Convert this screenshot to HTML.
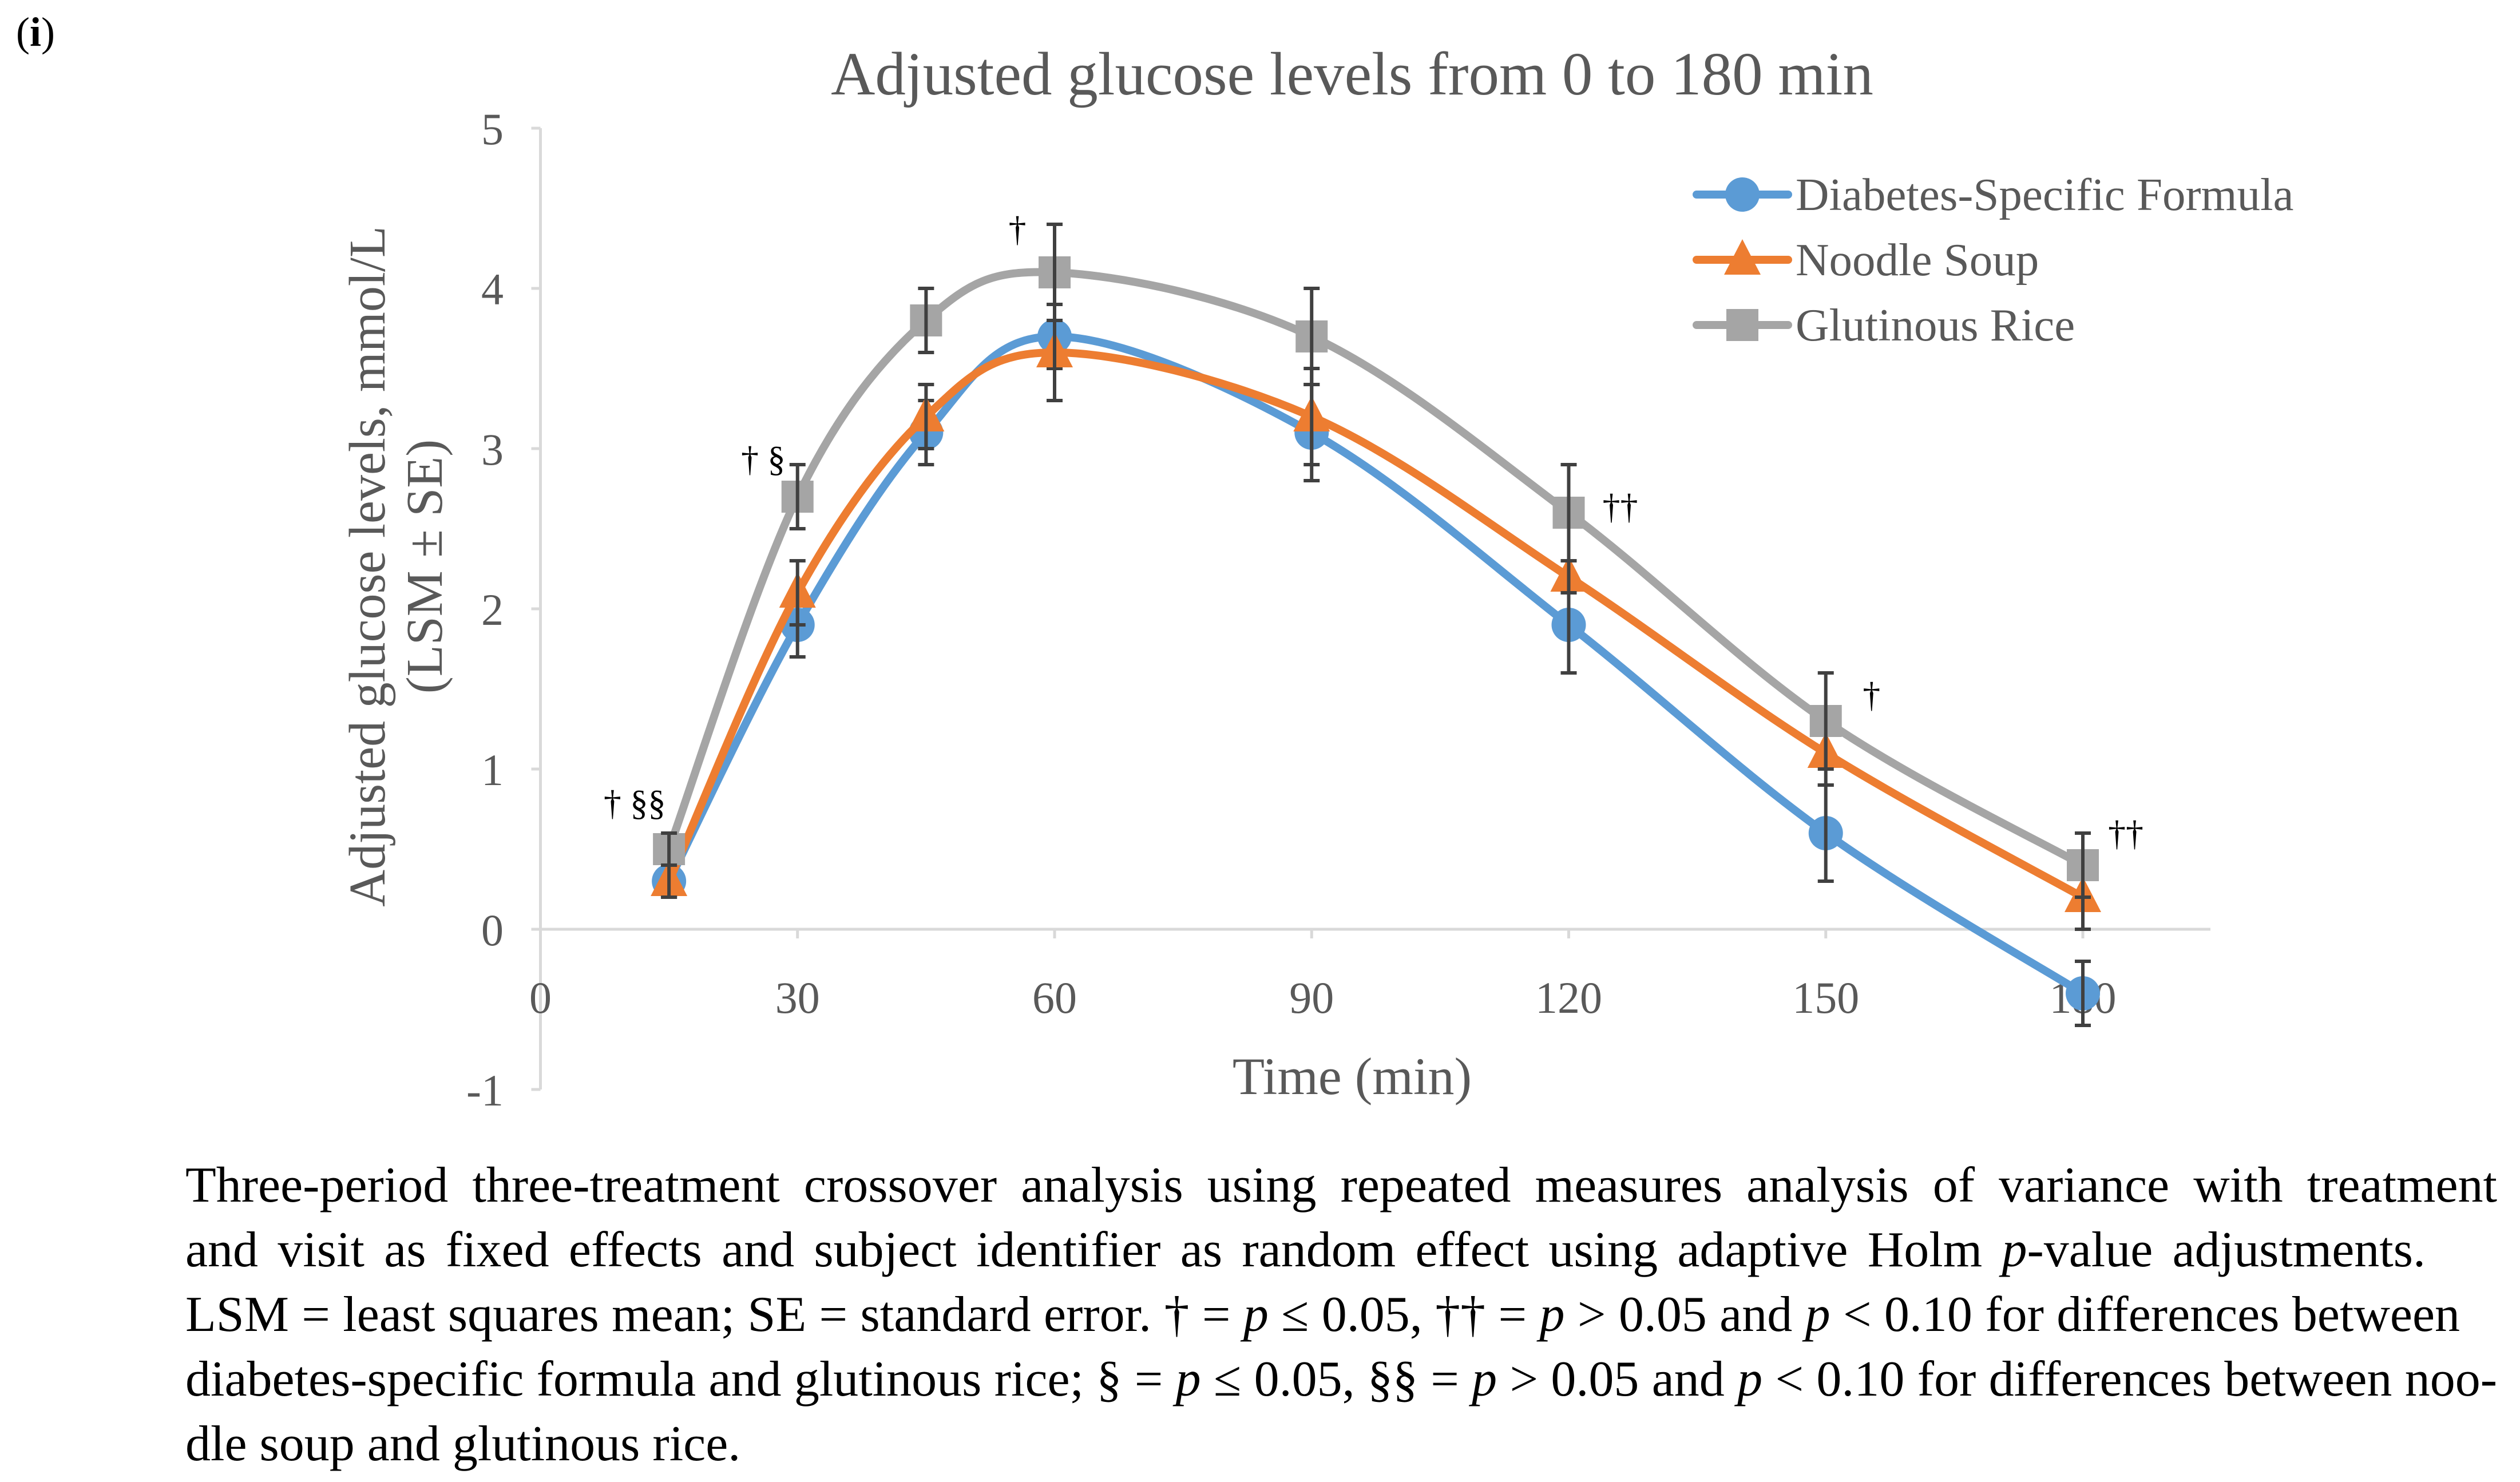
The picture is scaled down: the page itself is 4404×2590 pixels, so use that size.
<!DOCTYPE html>
<html><head><meta charset="utf-8">
<style>
html,body{margin:0;padding:0;background:#fff;width:4404px;height:2590px;overflow:hidden}
svg{display:block}
.cap{position:absolute;left:324px;font-family:"Liberation Serif",serif;font-size:88px;line-height:113px;color:#000;white-space:nowrap}
</style></head>
<body>
<svg id="chart" width="4404" height="2590" viewBox="0 0 4404 2590" xmlns="http://www.w3.org/2000/svg" style="position:absolute;left:0;top:0">
<text x="28" y="80" font-family="Liberation Serif, serif" font-size="72" fill="#000">(<tspan font-weight="bold">i</tspan>)</text>
<text x="2363" y="165" text-anchor="middle" font-family="Liberation Serif, serif" font-size="107" fill="#595959">Adjusted  glucose levels from 0 to 180 min</text>
<g id="axes"></g>
<g id="series"></g>
<g id="legend"></g>
</svg>
<div class="cap" data-w="4040" style="top:2015px">Three-period three-treatment crossover analysis using repeated measures analysis of variance with treatment</div>
<div class="cap" data-w="3915" style="top:2128px">and visit as fixed effects and subject identifier as random effect using adaptive Holm <i>p</i>-value adjustments.</div>
<div class="cap" data-w="3975" style="top:2241px">LSM = least squares mean; SE = standard error. † = <i>p</i> ≤ 0.05, †† = <i>p</i> &gt; 0.05 and <i>p</i> &lt; 0.10 for differences between</div>
<div class="cap" data-w="4040" style="top:2354px">diabetes-specific formula and glutinous rice; § = <i>p</i> ≤ 0.05, §§ = <i>p</i> &gt; 0.05 and <i>p</i> &lt; 0.10 for differences between noo-</div>
<div class="cap" style="top:2467px">dle soup and glutinous rice.</div>
<script>
document.querySelectorAll('.cap[data-w]').forEach(el=>{
  const target=+el.getAttribute('data-w');
  const nat=el.getBoundingClientRect().width;
  const spaces=(el.textContent.match(/ /g)||[]).length;
  el.style.wordSpacing=((target-nat)/spaces)+'px';
});
const times = [15,30,45,60,90,120,150,180];
const dsf = [0.3,1.9,3.1,3.7,3.1,1.9,0.6,-0.4];
const noodle = [0.3,2.1,3.2,3.6,3.2,2.2,1.1,0.2];
const rice = [0.5,2.7,3.8,4.1,3.7,2.6,1.3,0.4];
const dsfErr = [0.1,0.2,0.2,0.2,0.3,0.3,0.3,0.2];
const noodleErr = [0.1,0.2,0.2,0.3,0.3,0.1,0.2,0.2];
const riceErr = [0.1,0.2,0.2,0.3,0.3,0.3,0.3,0.2];
const xTicks = [0,30,60,90,120,150,180];
const yTicks = [-1,0,1,2,3,4,5];
const annTimes = [15,30,60,120,150,180];
const annValues = [0.5,2.7,4.1,2.6,1.3,0.4];
const annLabels = ["† §§","† §","†","††","†","††"];

const NS="http://www.w3.org/2000/svg";
const X0=944.5, XS=(3640-944.5)/180, Y0=1624, YS=280;
const sx=t=>X0+t*XS, sy=v=>Y0-v*YS;
function mk(tag,attrs,parent){const e=document.createElementNS(NS,tag);for(const k in attrs)e.setAttribute(k,attrs[k]);parent.appendChild(e);return e;}
const axes=document.getElementById('axes'), ser=document.getElementById('series'), leg=document.getElementById('legend');
const yl=mk('line',{x1:sx(0),x2:sx(0),y1:sy(5),y2:sy(-1),stroke:'#d9d9d9','stroke-width':5},axes);


const xl=mk('line',{x1:sx(0),x2:3863,y1:sy(0),y2:sy(0),stroke:'#d9d9d9','stroke-width':5},axes);


yTicks.forEach(v=>{
  const tk=mk('line',{x1:sx(0)-16,x2:sx(0),y1:sy(v),y2:sy(v),stroke:'#d9d9d9','stroke-width':5},axes);
  
  
  const t=mk('text',{x:880,y:sy(v)+28,'text-anchor':'end','font-family':'Liberation Serif, serif','font-size':78,fill:'#595959'},axes);
  t.textContent=v;
  
  
});
xTicks.forEach(v=>{
  const tk=mk('line',{x1:sx(v),x2:sx(v),y1:sy(0),y2:sy(0)+16,stroke:'#d9d9d9','stroke-width':5},axes);
  
  
  const t=mk('text',{x:sx(v),y:1770,'text-anchor':'middle','font-family':'Liberation Serif, serif','font-size':78,fill:'#595959'},axes);
  t.textContent=v;
  
  
});
const xt=mk('text',{x:2363,y:1912,'text-anchor':'middle','font-family':'Liberation Serif, serif','font-size':92,fill:'#595959'},axes);
xt.textContent='Time (min)';


const yt=mk('text',{transform:'translate(672,990) rotate(-90)','text-anchor':'middle','font-family':'Liberation Serif, serif','font-size':90,fill:'#595959'},axes);
yt.textContent='Adjusted glucose levels, mmol/L';


const yt2=mk('text',{transform:'translate(772,990) rotate(-90)','text-anchor':'middle','font-family':'Liberation Serif, serif','font-size':90,fill:'#595959'},axes);
yt2.textContent='(LSM ± SE)';



function spline(pts){
  let d=`M${pts[0][0]},${pts[0][1]}`;
  for(let i=0;i<pts.length-1;i++){
    const p0=pts[Math.max(0,i-1)],p1=pts[i],p2=pts[i+1],p3=pts[Math.min(pts.length-1,i+2)];
    const t=1/6;
    d+=` C${p1[0]+(p2[0]-p0[0])*t},${p1[1]+(p2[1]-p0[1])*t} ${p2[0]-(p3[0]-p1[0])*t},${p2[1]-(p3[1]-p1[1])*t} ${p2[0]},${p2[1]}`;
  }
  return d;
}
function marker(kind,x,y,color,parent){
  if(kind==='circle') return mk('circle',{cx:x,cy:y,r:30,fill:color},parent);
  if(kind==='tri') return mk('polygon',{points:`${x},${y-36} ${x+32},${y+26} ${x-32},${y+26}`,fill:color},parent);
  return mk('rect',{x:x-28,y:y-28,width:56,height:56,fill:color},parent);
}
const series=[
  {name:'dsf',vals:dsf,err:dsfErr,color:'#5b9bd5',m:'circle',label:'Diabetes-Specific Formula'},
  {name:'noodle-soup',vals:noodle,err:noodleErr,color:'#ed7d31',m:'tri',label:'Noodle Soup'},
  {name:'glutinous-rice',vals:rice,err:riceErr,color:'#a5a5a5',m:'square',label:'Glutinous Rice'}
];
series.forEach(s=>{
  const g=mk('g',{},ser);
  
  
  const pts=times.map((t,i)=>[sx(t),sy(s.vals[i])]);
  const p=mk('path',{d:spline(pts),fill:'none',stroke:s.color,'stroke-width':14,'stroke-linecap':'round'},g);
  
  
  times.forEach((t,i)=>{
    const mm=marker(s.m,sx(t),sy(s.vals[i]),s.color,g);
    
    
  });
  times.forEach((t,i)=>{
    const x=sx(t),hi=sy(s.vals[i]+s.err[i]),lo=sy(s.vals[i]-s.err[i]);
    const eb=mk('path',{d:`M${x},${hi}V${lo}M${x-14},${hi}H${x+14}M${x-14},${lo}H${x+14}`,stroke:'#404040','stroke-width':6,fill:'none'},g);
    
    
  });
});
const annDx=[-60,-60,-65,90,80,75], annDy=[-60,-45,-55,10,-25,-35];
annTimes.forEach((t,i)=>{
  const a=mk('text',{x:sx(t)+annDx[i],y:sy(annValues[i])+annDy[i],'text-anchor':'middle','font-family':'Liberation Serif, serif','font-size':62,fill:'#000'},ser);
  a.textContent=annLabels[i];
  
  
});
series.forEach((s,i)=>{
  const y=340+i*114;
  const g=mk('g',{},leg);
  
  
  mk('line',{x1:2965,x2:3125,y1:y,y2:y,stroke:s.color,'stroke-width':14,'stroke-linecap':'round'},g);
  marker(s.m,3045,y,s.color,g);
  const t=mk('text',{x:3138,y:y+27,'font-family':'Liberation Serif, serif','font-size':81,fill:'#595959'},g);
  t.textContent=s.label;
  
  
});
</script>
</body></html>
